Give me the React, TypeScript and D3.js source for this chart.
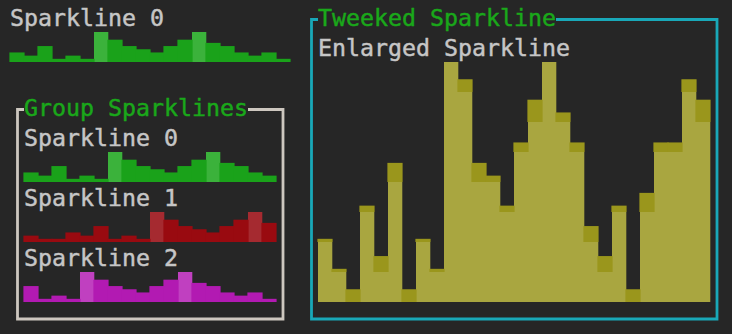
import React from "react";
import * as d3 from "d3";

// ---- data (termui sparkline example) ----
const enlargedData = [4, 2, 1, 6, 3, 9, 1, 4, 2, 15, 14, 9, 8, 6, 10, 13, 15, 12, 10, 5, 3, 6, 1, 7, 10, 10, 14, 13, 6];
const spark0Data = [6, 3, 9, 1, 4, 2, 15, 14, 9, 8, 6, 10, 13, 15, 12, 10, 5, 3, 6, 1, 7, 10, 10, 14, 13, 6];
const spark1Data = [4, 2, 1, 6, 3, 9, 1, 4, 2, 15, 14, 9, 8, 6, 10, 13, 15, 12, 10, 5, 3, 6, 1, 7, 10, 10, 14, 13, 6];
const spark2Data = [9, 1, 4, 2, 15, 14, 9, 8, 6, 10, 13, 15, 12, 10, 5, 3, 6, 1, 7, 10, 10, 14, 13, 6];

const sparkTitles = ["Sparkline 0", "Sparkline 1", "Sparkline 2"];
const enlargedTitle = "Enlarged Sparkline";
const groupLabel = "Group Sparklines";
const tweekedLabel = "Tweeked Sparkline";

const W = 732;
const H = 334;
const COLW = 14;
const ROWH = 30;
const X0 = 10;
const Y0 = 2;

const col = d3.scaleLinear().domain([0, 1]).range([X0, X0 + COLW]);
const row = d3.scaleLinear().domain([0, 1]).range([Y0, Y0 + ROWH]);

const BG = "#262626";
const TEXT = "#c6c6c6";
const LABEL = "#1aa81a";
const FONT = "'DejaVu Sans Mono', 'Liberation Mono', monospace";
const FS = 23.25;
const GLYPH = (ROWH * 0.85) / 8;

const palette = {
  green: { light: "#3bb23b", dark: "#1aa21a" },
  red: { light: "#a52a30", dark: "#990a10" },
  magenta: { light: "#c040c0", dark: "#b21ab2" },
  yellow: { light: "#a9a640", dark: "#9a961c" },
};

type Pal = { light: string; dark: string };

function Spark({ data, c0, width, bottomRow, height, pal, keyp }: { data: number[]; c0: number; width: number; bottomRow: number; height: number; pal: Pal; keyp: string }) {
  const max = d3.max(data) || 1;
  const y = d3.scaleLinear().domain([0, max]).range([0, 8 * height]);
  const bottom = row(bottomRow + 1);
  const shown = data.slice(0, width);
  const bars = shown.map((v, j) => {
    const h = Math.floor(y(Math.max(v, 0)) + 0.5);
    const full = Math.floor(h / 8);
    const rem = h % 8;
    return { j, full, rem };
  });
  return (
    <g>
      {bars.map((b) =>
        b.full > 0 ? (
          <rect key={keyp + "f" + b.j} x={col(c0 + b.j)} y={bottom - b.full * ROWH} width={COLW + 0.3} height={b.full * ROWH} fill={pal.light} />
        ) : null
      )}
      {bars.map((b) =>
        b.rem > 0 ? (
          <rect key={keyp + "p" + b.j} x={col(c0 + b.j) - 0.6} y={bottom - b.full * ROWH - b.rem * GLYPH} width={COLW + 1.2} height={b.rem * GLYPH} fill={pal.dark} />
        ) : null
      )}
    </g>
  );
}

function Txt({ c, r, s, fill }: { c: number; r: number; s: string; fill: string }) {
  return (
    <text x={col(c)} y={row(r) + 23.5} fill={fill} stroke={fill} strokeWidth={0.45} fontFamily={FONT} fontSize={FS} style={{ whiteSpace: "pre" }}>
      {s}
    </text>
  );
}

function Box({ c0, c1, r0, r1, stroke, label }: { c0: number; c1: number; r0: number; r1: number; stroke: string; label: string }) {
  const lx = col(c0) + 7.5;
  const rx = col(c1) + 7;
  const ty = row(r0) + 17.5;
  const by = row(r1) + 17;
  const ls = col(c0 + 1);
  const le = col(c0 + 1 + label.length);
  const d = `M${ls},${ty} L${lx},${ty} L${lx},${by} L${rx},${by} L${rx},${ty} L${le},${ty}`;
  return (
    <g>
      <path d={d} fill="none" stroke={stroke} strokeWidth={2.8} />
      <Txt c={c0 + 1} r={r0} s={label} fill={LABEL} />
    </g>
  );
}

export default function App() {
  const groupData = [spark0Data, spark1Data, spark2Data];
  const groupPals = [palette.green, palette.red, palette.magenta];
  return (
    <svg width={W} height={H} style={{ position: "absolute", left: 0, top: 0, display: "block" }}>
      <rect x={0} y={0} width={W} height={H} fill={BG} />

      {/* single sparkline */}
      <Txt c={0} r={0} s={sparkTitles[0]} fill={TEXT} />
      <Spark data={spark0Data} c0={0} width={20} bottomRow={1} height={1} pal={palette.green} keyp="s0" />

      {/* group */}
      <Box c0={0} c1={19} r0={3} r1={10} stroke="#cdc7bf" label={groupLabel} />
      {groupData.map((dd, i) => (
        <g key={"g" + i}>
          <Txt c={1} r={4 + i * 2} s={sparkTitles[i]} fill={TEXT} />
          <Spark data={dd} c0={1} width={18} bottomRow={5 + i * 2} height={1} pal={groupPals[i]} keyp={"g" + i} />
        </g>
      ))}

      {/* tweeked */}
      <Box c0={21} c1={50} r0={0} r1={10} stroke="#19a8b8" label={tweekedLabel} />
      <Txt c={22} r={1} s={enlargedTitle} fill={TEXT} />
      <Spark data={enlargedData} c0={22} width={28} bottomRow={9} height={8} pal={palette.yellow} keyp="e" />
    </svg>
  );
}
